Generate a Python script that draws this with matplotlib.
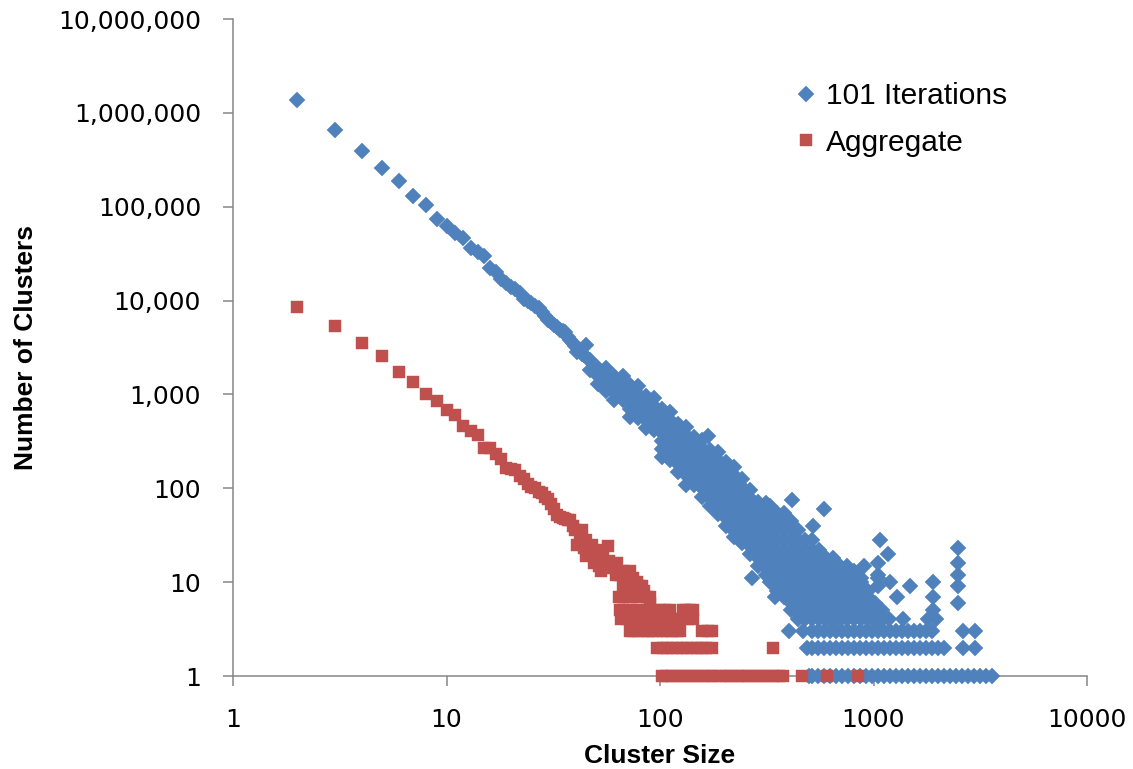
import matplotlib
matplotlib.use('Agg')
import matplotlib.pyplot as plt

# ---- data ----
# 101 Iterations: the clean upper part, one count per cluster size
blue_line_x = [2, 3, 4, 5, 6, 7, 8, 9, 10, 11, 12, 13, 14, 15, 16, 17, 18, 19, 20, 21, 22, 23, 24,
               25, 26, 27, 28, 29, 30, 31, 32, 33, 34, 35, 36, 37, 38, 39, 40, 41, 42, 43, 44, 45, 46]
blue_line_y = [1370000, 656000, 392000, 256000, 188000, 129000, 104000, 74000, 62000, 53000, 46000,
               36000, 33000, 30000, 22000, 20000, 17000, 15500, 14000, 13300, 12000, 10500, 9800, 9400,
               8700, 8300, 7500, 6900, 6200, 5900, 5500, 5200, 4900, 4700, 4600, 4100, 3800, 3500, 3300,
               2850, 3000, 2700, 2600, 3400, 2400]

# scattered band: (cluster size, counts seen for it)
blue_band = [
    (47, [2330, 1820]),
    (51, [1910, 1570, 1290]),
    (56, [1910, 1570, 1290, 1100]),
    (61, [1570, 1290, 1060, 870]),
    (67, [1570, 1290, 1060, 870]),
    (72, [1260, 1036, 851, 700, 575]),
    (79, [1230, 1010, 830, 680, 560]),
    (86, [962, 790, 650, 534, 440]),
    (94, [916, 753, 618, 508, 418]),
    (102, [700, 575, 473, 389, 320, 263, 216]),
    (111, [650, 534, 440, 360, 297, 245, 200]),
    (121, [485, 399, 327, 270, 220, 181, 149]),
    (132, [450, 370, 305, 250, 205, 170, 139, 108]),
    (144, [350, 290, 237, 195, 160, 132, 108]),
    (157, [327, 270, 220, 181, 149, 122, 100, 81]),
    (167, [360]),
    (171, [256, 210, 173, 142, 117, 96, 79, 65]),
    (187, [245, 200, 165, 136, 111, 91, 75, 62, 53]),
    (204, [191, 157, 129, 106, 87, 71, 59, 48, 40]),
    (223, [168, 139, 114, 94, 77, 63, 52, 43, 35, 30]),
    (243, [126, 103, 85, 70, 58, 47, 39, 32, 26]),
    (264, [96, 79, 65, 53, 44, 36, 30, 24, 20]),
    (289, [71, 59, 48, 40, 33, 27, 22, 18, 15]),
    (315, [70, 58, 47, 39, 32, 26, 22, 18, 14, 12]),
]

# low counts: (count, cluster sizes having it)
blue_rows = [
    (65, [327]),
    (55, [327, 353, 381]),
    (45, [327, 353, 381, 411]),
    (36, [327, 353, 381, 411, 443]),
    (28, [327, 353, 381, 411, 443, 478, 515]),
    (22, [327, 353, 381, 411, 443, 478, 515, 556]),
    (18, [327, 353, 381, 411, 443, 478, 515, 556, 600, 646]),
    (15, [327, 353, 381, 411, 443, 478, 515, 556, 600, 646, 697, 751]),
    (13, [327, 353, 381, 411, 443, 478, 515, 556, 600, 646, 697, 751, 811]),
    (11, [327, 353, 381, 411, 443, 478, 515, 556, 600, 646, 697, 751, 811, 874]),
    (10, [327, 353, 381, 411, 443, 478, 515, 556, 600, 646, 697, 751, 811, 874]),
    (9, [353, 381, 411, 443, 478, 515, 556, 600, 646, 697, 751, 811, 874]),
    (8, [353, 381, 411, 443, 478, 515, 556, 600, 646, 697, 751, 811, 874, 942]),
    (7, [381, 411, 443, 478, 515, 556, 600, 646, 697, 751, 811, 874, 942]),
    (6, [411, 443, 478, 515, 556, 600, 646, 697, 751, 811, 874, 942, 1016]),
    (5, [411, 443, 478, 515, 556, 600, 646, 697, 751, 811, 874, 942, 1016, 1096]),
    (4, [443, 478, 515, 556, 600, 646, 697, 751, 811, 874, 942, 1016, 1096, 1182, 1370, 1800, 1960]),
    (3, [400, 468, 515, 550, 586, 626, 667, 712, 760, 811, 865, 922, 984, 1050, 1120, 1195, 1275,
         1360, 1451, 1548, 1651, 1762, 1879, 2620, 2990]),
    (2, [490, 515, 550, 586, 626, 667, 712, 760, 811, 865, 922, 984, 1050, 1120, 1195, 1275, 1360,
         1451, 1548, 1651, 1762, 1879, 2005, 2139, 2620, 2990]),
    (1, [500, 515, 550, 586, 626, 667, 712, 760, 811, 865, 922, 984, 1050, 1120, 1195, 1275, 1360,
         1451, 1548, 1651, 1762, 1879, 2005, 2139, 2282, 2434, 2597, 2771, 2956, 3154, 3365, 3589]),
]

# stray points
blue_extra_x = [270, 345, 415, 587, 521, 1070, 1170, 1050, 900, 1050, 1050, 1050, 1190, 1480, 1900,
                2490, 2490, 2490, 2490, 2490, 1290, 1900, 1900, 751]
blue_extra_y = [11, 7, 75, 60, 40, 28, 20, 16, 15, 12, 11, 9, 10, 9, 10, 23, 16, 12, 9, 6, 7, 7, 5, 12]

# Aggregate
red_line_x = [2, 3, 4, 5, 6, 7, 8, 9, 10, 11, 12, 13, 14, 15, 16, 17, 18, 19, 20, 21, 22, 23, 24, 25,
              26, 27, 28, 29, 30, 31, 32, 33, 34, 35, 36, 37, 38, 39, 40]
red_line_y = [8600, 5350, 3500, 2590, 1750, 1370, 1010, 850, 690, 600, 461, 410, 370, 267, 267, 232,
              205, 166, 160, 157, 135, 125, 112, 104, 100, 92, 88, 80, 77, 68, 60, 52, 50, 48, 47,
              46, 46, 40, 36]
red_cloud_x = [41, 42, 43, 44, 45, 45, 46, 47, 48, 49, 50, 51, 52, 53, 54, 56, 57, 58, 60, 62, 62, 63,
               65, 67, 67, 70, 71, 72, 72, 75, 75, 78, 80, 82, 84, 90]
red_cloud_y = [25, 30, 36, 23, 28, 19, 24, 20, 25, 16, 22, 18, 15, 13, 19, 15, 24, 17, 14, 15, 12, 16,
               12, 13, 9, 10, 11, 13, 9, 11, 9, 10, 9, 9, 8, 6]
red_rows = [
    (7, [64, 67, 73, 78, 87, 90]),
    (5, [65, 67, 71, 75, 81, 87, 93, 100, 105, 111, 128, 133, 138, 142]),
    (4, [66, 70, 76, 87, 92, 103, 109, 117, 124, 135, 142]),
    (3, [72, 75, 79, 84, 88, 92, 97, 103, 108, 114, 120, 124, 157, 167, 175]),
    (2, [97, 103, 108, 114, 120, 127, 134, 141, 149, 157, 165, 175, 340]),
    (1, [102, 107, 114, 121, 129, 138, 147, 157, 167, 178, 190, 203, 216, 231, 246, 262, 280, 298,
         318, 339, 362, 375, 462, 606, 846]),
]

y_ticks = [1, 10, 100, 1000, 10000, 100000, 1000000, 10000000]
y_tick_labels = ['1', '10', '100', '1,000', '10,000', '100,000', '1,000,000', '10,000,000']
x_ticks = [1, 10, 100, 1000, 10000]
x_tick_labels = ['1', '10', '100', '1000', '10000']

# ---- gather points ----
bx, by = list(blue_line_x), list(blue_line_y)
for size, counts in blue_band:
    bx += [size] * len(counts)
    by += counts
for count, sizes in blue_rows:
    bx += sizes
    by += [count] * len(sizes)
bx += blue_extra_x
by += blue_extra_y

rx, ry = list(red_line_x), list(red_line_y)
rx += red_cloud_x
ry += red_cloud_y
for count, sizes in red_rows:
    rx += sizes
    ry += [count] * len(sizes)

blue = '#4F81BD'
red = '#C0504D'
grey = '#868686'

fig = plt.figure(figsize=(11.33, 7.69), dpi=100)
ax = fig.add_axes([233 / 1133, 1 - 676 / 769, (1087 - 233) / 1133, (676 - 19) / 769])

ax.plot(bx, by, ls='none', marker='D', ms=7.9, color=blue, mec=blue, mew=0.3,
        clip_on=False, zorder=3, label='101 Iterations')
ax.plot(rx, ry, ls='none', marker='s', ms=8.0, color=red, mec=red, mew=0.3,
        clip_on=False, zorder=4, label='Aggregate')

ax.set_xscale('log')
ax.set_yscale('log')
ax.set_xlim(1, 10000)
ax.set_ylim(1, 10000000)
ax.set_xticks(x_ticks)
ax.set_xticklabels(x_tick_labels)
ax.set_yticks(y_ticks)
ax.set_yticklabels(y_tick_labels)
ax.minorticks_off()

for side in ['top', 'right']:
    ax.spines[side].set_visible(False)
for side in ['left', 'bottom']:
    ax.spines[side].set_color(grey)
    ax.spines[side].set_linewidth(1.1)
ax.tick_params(axis='both', direction='out', length=7, width=1.1, color=grey,
               labelsize=18, pad=16, labelcolor='black')

ax.set_xlabel('Cluster Size', family='Liberation Sans', fontweight='bold', fontsize=19)
ax.xaxis.set_label_coords(0.5, -0.104)
ax.set_ylabel('Number of Clusters', family='Liberation Sans', fontweight='bold', fontsize=19)
ax.yaxis.set_label_coords(-0.228, 0.5)

leg = ax.legend(loc='upper left', bbox_to_anchor=(795 / 1133, 1 - 82 / 769),
                bbox_transform=fig.transFigure, frameon=False, numpoints=1,
                handlelength=0.75, handletextpad=0.3, labelspacing=0.62,
                borderpad=0, borderaxespad=0,
                prop={'family': 'Liberation Sans', 'size': 21.5})

fig.savefig('out.png', dpi=100)
